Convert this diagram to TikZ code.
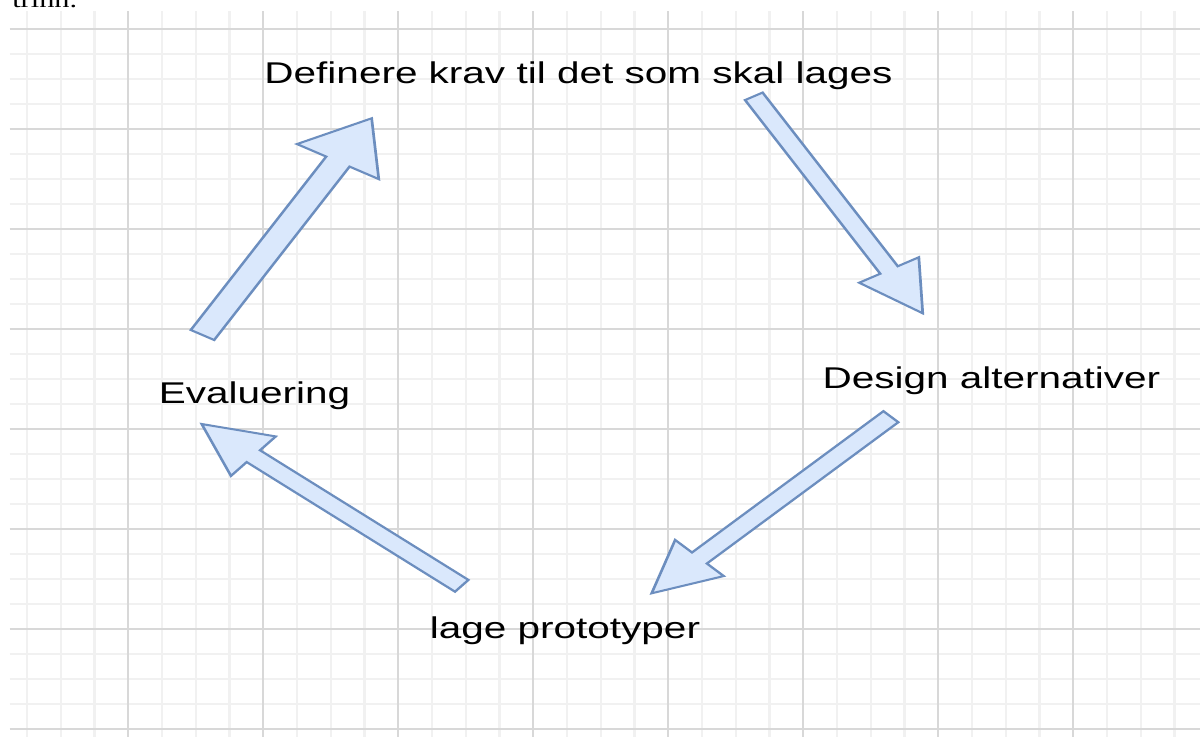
\documentclass[tikz,border=0pt]{standalone}
\usepackage{fontspec}
\setmainfont{Liberation Sans}
\newfontfamily\pageserif{Liberation Serif}
\usepackage{tikz}
\usetikzlibrary{
  % enables the block arrow points
  calc,%
  positioning
}
\definecolor{arrowfill}{HTML}{DAE8FC}
\definecolor{arrowline}{HTML}{6C8EBF}
\definecolor{gridminor}{HTML}{F1F1F1}
\definecolor{gridmajor}{HTML}{D8D8D8}
\tikzset{font=\fontsize{30}{36}\selectfont}
\tikzset{steplabel/.style={anchor=base, inner sep=0pt},
  blockarrow/.style={fill=arrowfill, draw=arrowline, line width=2pt, line join=miter},
  minorline/.style={gridminor, line width=1.8pt},
  majorline/.style={gridmajor, line width=1.3pt}}
% block arrow from tail #1 to tip #2, half shaft #3, half head #4
\newcommand\blockarrow[4]{%
  \coordinate (hb) at ($(#2)!50pt!(#1)$);
  \draw[blockarrow] ($(#1)!#3pt!90:(#2)$) -- ($(hb)!#3pt!90:(#2)$) -- ($(hb)!#4pt!90:(#2)$)
    -- (#2) -- ($(hb)!#4pt!-90:(#2)$) -- ($(hb)!#3pt!-90:(#2)$) -- ($(#1)!#3pt!-90:(#2)$) -- cycle;}

\begin{document}
\begin{tikzpicture}[x=1pt, y=-1pt]
        \useasboundingbox (0,0) rectangle (1200,737);
        \fill[white] (0,0) rectangle (1200,737);
        \begin{scope}[transform canvas={xscale=1.35}]
          \clip (0,0) rectangle (888.9,737);
          % squared paper
          \foreach \x in {20,45,...,870} \draw[minorline] (\x,11) -- (\x,737);
          \foreach \y in {29,54,...,729} \draw[minorline] (7.4,\y) -- (888.9,\y);
          \foreach \x in {95,195,...,795} \draw[majorline] (\x,11) -- (\x,737);
          \foreach \y in {29,129,...,729} \draw[majorline] (7.4,\y) -- (888.9,\y);
          \node[anchor=base west, inner sep=0pt, font=\pageserif\fontsize{22.5}{27}\selectfont] (trinn) at (8.9,7.5) {trinn.};
          % the four steps
          \node[steplabel] (krav) at (428.5,83) {Definere krav til det som skal lages};
          \node[steplabel] (design) at (734.4,388) {Design alternativer};
          \node[steplabel] (prototyper) at (418.5,638) {lage prototyper};
          \node[steplabel] (evaluering) at (188.5,403) {Evaluering};
          \coordinate (evalOut) at (150,335);
          \coordinate (kravIn) at (275.3,118.3);
          \coordinate (kravOut) at (558.4,96.3);
          \coordinate (designIn) at (683.5,313.3);
          \coordinate (designOut) at (659.9,416.7);
          \coordinate (protoIn) at (482.7,593.3);
          \coordinate (protoOut) at (342,585.8);
          \coordinate (evalIn) at (149.4,424);
          \blockarrow{evalOut}{kravIn}{10}{35}
          \blockarrow{kravOut}{designIn}{7.5}{25.5}
          \blockarrow{designOut}{protoIn}{7.8}{25.5}
          \blockarrow{protoOut}{evalIn}{7.7}{25.8}
        \end{scope}
      \end{tikzpicture}
\end{document}
